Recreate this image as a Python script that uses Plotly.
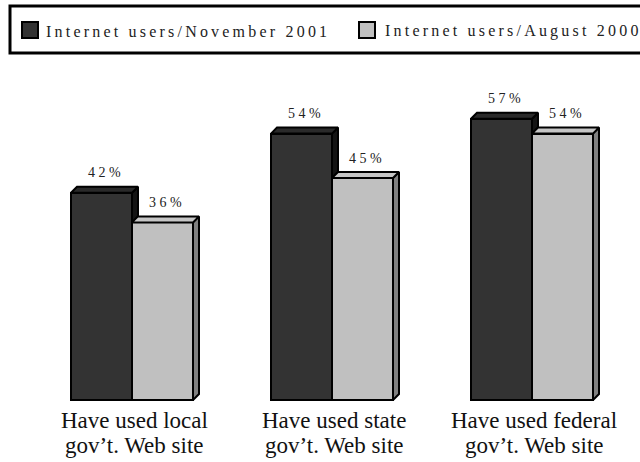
import plotly.graph_objects as go

# Survey data: share of Internet users who have used government Web sites
categories_line1 = ["Have used local", "Have used state", "Have used federal"]
categories_line2 = ["gov\u2019t. Web site", "gov\u2019t. Web site", "gov\u2019t. Web site"]
series_names = ["Internet users/November 2001", "Internet users/August 2000"]
nov_2001 = [42, 54, 57]
aug_2000 = [36, 45, 54]

# Figure geometry (pixels)
FIG_W, FIG_H = 640, 462
M_L, M_R, M_T, M_B = 12, 8, 104, 60
PLOT_W = FIG_W - M_L - M_R
PLOT_H = FIG_H - M_T - M_B
X_RANGE = [-0.6, 2.5]
Y_RANGE = [-0.4, 60]

BAR_W = 0.305          # bar width in group units
DX = 0.03              # 3-D depth, horizontal (group units)
DY = 1.22              # 3-D depth, vertical (percent units)

FRONT = ["#333333", "#c0c0c0"]
TOP = ["#2a2a2a", "#c6c6c6"]
SIDE = ["#141414", "#808080"]
SERIF = "Liberation Serif"


def px_to_paper_x(px):
    return (px - M_L) / PLOT_W


def px_to_paper_y(py):
    return (M_T + PLOT_H - py) / PLOT_H


def spaced(s, sep=" "):
    return sep.join(s)


fig = go.Figure()

groups = list(range(len(categories_line1)))
series = [nov_2001, aug_2000]
offsets = [-BAR_W / 2, BAR_W / 2]

# Front faces of the bars
for i, vals in enumerate(series):
    fig.add_trace(go.Bar(
        x=[g + offsets[i] for g in groups],
        y=vals,
        width=BAR_W,
        name=series_names[i],
        marker=dict(color=FRONT[i], line=dict(color="black", width=2)),
        showlegend=False,
        hoverinfo="skip",
    ))


def poly(xs, ys, color):
    fig.add_trace(go.Scatter(
        x=xs + [xs[0]], y=ys + [ys[0]], mode="lines", fill="toself",
        fillcolor=color, line=dict(color="black", width=2),
        showlegend=False, hoverinfo="skip",
    ))


# 3-D depth faces, drawn back to front
for g in groups:
    vd, vl = nov_2001[g], aug_2000[g]
    d0, d1 = g - BAR_W, g
    l0, l1 = g, g + BAR_W
    # dark bar side (only the part above the light bar)
    poly([d1, d1, d1 + DX, d1 + DX], [vl, vd, vd + DY, vl + DY], SIDE[0])
    # dark bar top
    poly([d0, d0 + DX, d1 + DX, d1], [vd, vd + DY, vd + DY, vd], TOP[0])
    # light bar side
    poly([l1, l1, l1 + DX, l1 + DX], [0, vl, vl + DY, DY], SIDE[1])
    # light bar top
    poly([l0, l0 + DX, l1 + DX, l1], [vl, vl + DY, vl + DY, vl], TOP[1])

annotations = []
# Value labels above each bar
for i, vals in enumerate(series):
    for g in groups:
        annotations.append(dict(
            x=g + offsets[i] + DX / 2, y=vals[g], xref="x", yref="y",
            text=spaced(f"{vals[g]}%"), showarrow=False,
            yshift=20, yanchor="middle", xanchor="center",
            font=dict(family=SERIF, size=14, color="#222222"),
        ))

# Category labels under each group
for g in groups:
    for line, py in ((categories_line1[g], 420), (categories_line2[g], 445)):
        annotations.append(dict(
            x=g + 0.01, y=px_to_paper_y(py), xref="x", yref="paper",
            text=line, showarrow=False, xanchor="center", yanchor="middle",
            font=dict(family=SERIF, size=23, color="#111111"),
        ))

# Legend drawn as a framed row at the top
shapes = [dict(
    type="rect", xref="paper", yref="paper",
    x0=px_to_paper_x(10), x1=px_to_paper_x(700),
    y0=px_to_paper_y(53), y1=px_to_paper_y(6),
    line=dict(color="black", width=3), fillcolor="rgba(0,0,0,0)",
)]
legend_x = [(22, 44), (359, 383)]
for i, name in enumerate(series_names):
    sx, tx = legend_x[i]
    shapes.append(dict(
        type="rect", xref="paper", yref="paper",
        x0=px_to_paper_x(sx), x1=px_to_paper_x(sx + 16),
        y0=px_to_paper_y(38), y1=px_to_paper_y(22),
        line=dict(color="black", width=2), fillcolor=FRONT[i],
    ))
    annotations.append(dict(
        x=px_to_paper_x(tx), y=px_to_paper_y(31), xref="paper", yref="paper",
        text=spaced(name, "\u2009"), showarrow=False,
        xanchor="left", yanchor="middle",
        font=dict(family=SERIF, size=16, color="#222222"),
    ))

fig.update_layout(
    width=FIG_W, height=FIG_H, autosize=False,
    margin=dict(l=M_L, r=M_R, t=M_T, b=M_B, pad=0),
    paper_bgcolor="white", plot_bgcolor="white",
    font=dict(family=SERIF),
    barmode="overlay", bargap=0,
    xaxis=dict(range=X_RANGE, visible=False, fixedrange=True),
    yaxis=dict(range=Y_RANGE, visible=False, fixedrange=True),
    showlegend=False,
    annotations=annotations,
    shapes=shapes,
)

fig.write_html("out.html")
